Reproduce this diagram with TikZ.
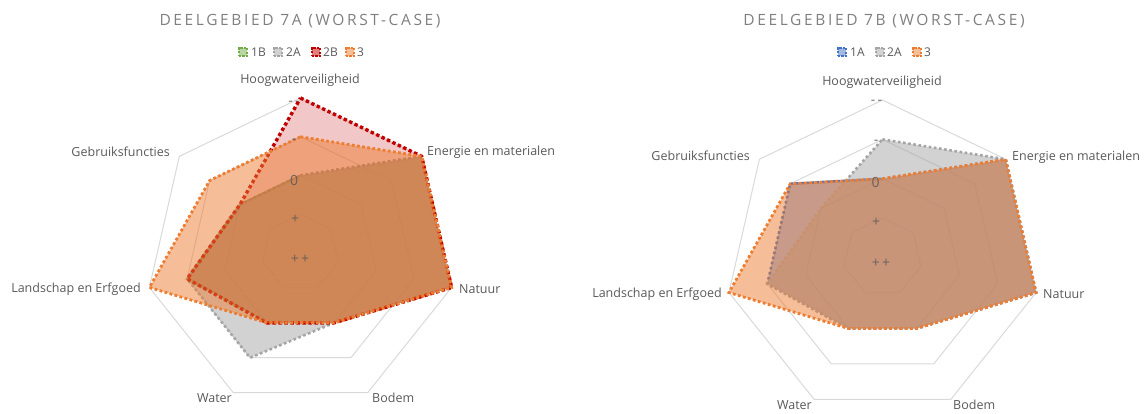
\documentclass[tikz,border=0pt]{standalone}
\usepackage{fontspec}
\setmainfont{Open Sans}
\usetikzlibrary{calc}
\definecolor{txt}{HTML}{595959}
\definecolor{ttl}{HTML}{7F7F7F}
\definecolor{gridc}{HTML}{D9D9D9}
\definecolor{sgreen}{HTML}{70AD47}
\definecolor{sgray}{HTML}{A5A5A5}
\definecolor{sred}{HTML}{C00000}
\definecolor{sorange}{HTML}{ED7D31}
\definecolor{sblue}{HTML}{4472C4}
\newcommand\radarpoly[9]{%
  \draw[#1] ($(#2)+(90:#3*\U)$) -- ($(#2)+(38.5714:#4*\U)$) -- ($(#2)+(-12.8571:#5*\U)$)
   -- ($(#2)+(-64.2857:#6*\U)$) -- ($(#2)+(-115.7143:#7*\U)$) -- ($(#2)+(-167.1429:#8*\U)$)
   -- ($(#2)+(141.4286:#9*\U)$) -- cycle;}
\tikzset{
  ringline/.style={draw=gridc, line width=1pt},
  ser/.style={draw=#1, fill=#1, fill opacity=0.5, line width=2.6pt, dash pattern=on 2.6pt off 2.6pt, line join=miter},
  legmark/.style={draw=#1, fill=#1, fill opacity=0.5, line width=2.2pt, dash pattern=on 2.2pt off 1.4pt, minimum size=8.5pt, inner sep=0pt},
  legtxt/.style={anchor=west, inner sep=0pt, font=\fontsize{12}{14}\selectfont, text=txt},
  ttlstyle/.style={inner sep=0pt, text=ttl, font=\fontsize{15.5}{18}\selectfont\addfontfeature{LetterSpace=17}},
  axlab/.style={inner sep=0pt, text=txt, font=\fontsize{12.5}{15}\selectfont},
  ticklab/.style={inner sep=0pt, text=txt, text opacity=0.85, font=\fontsize{14}{16}\selectfont},
}
\begin{document}
\begin{tikzpicture}[x=1pt,y=-1pt]
\useasboundingbox (0,0) rectangle (1147,414);
% ---------------- Chart 7A ----------------
\coordinate (cA) at (300.5,253);
\def\U{38.75pt}
\node[ttlstyle] (tA) at (300,21) {DEELGEBIED 7A (WORST-CASE)};
\node[legmark=sgreen] (mA1) at (243,52) {};
\node[legtxt] (lA1) at (251,52.5) {1B};
\node[legmark=sgray] (mA2) at (278,52) {};
\node[legtxt] (lA2) at (286,52.5) {2A};
\node[legmark=sred] (mA3) at (316,52) {};
\node[legtxt] (lA3) at (323,52.5) {2B};
\node[legmark=sorange] (mA4) at (350,52) {};
\node[legtxt] (lA4) at (357,52.5) {3};
\foreach \k in {1,2,3,4}{\radarpoly{ringline}{cA}{\k}{\k}{\k}{\k}{\k}{\k}{\k}}
\node[ticklab] (kA0) at (294,103) {-\,-};
\radarpoly{ser=sgreen}{cA}{2}{4}{4}{2}{2}{3}{2}
\radarpoly{ser=sgray}{cA}{2}{4}{4}{2}{3}{3}{2}
\radarpoly{ser=sred, fill opacity=0.22, line width=3.4pt, dash pattern=on 3.4pt off 2.6pt}{cA}{4}{4}{4}{2}{2}{3}{2}
\radarpoly{ser=sorange, line width=2.8pt, dash pattern=on 2.8pt off 2.4pt}{cA}{3}{4}{4}{2}{2}{4}{3}
\node[ticklab] (kA1) at (294,141) {-};
\node[ticklab] (kA2) at (294,180) {0};
\node[ticklab] (kA3) at (295,219) {+};
\node[ticklab] (kA4) at (300,259) {+\,+};
\node[axlab] (aA0) at (300,80) {Hoogwaterveiligheid};
\node[axlab, anchor=west] (aA1) at (427,152) {Energie en materialen};
\node[axlab, anchor=west] (aA2) at (459,289) {Natuur};
\node[axlab, anchor=west] (aA3) at (372,398) {Bodem};
\node[axlab, anchor=east] (aA4) at (232,398) {Water};
\node[axlab, anchor=east] (aA5) at (141,289) {Landschap en Erfgoed};
\node[axlab, anchor=east] (aA6) at (170,152) {Gebruiksfuncties};
% ---------------- Chart 7B ----------------
\coordinate (cB) at (882.5,257.5);
\def\U{39.375pt}
\node[ttlstyle] (tB) at (884,21) {DEELGEBIED 7B (WORST-CASE)};
\node[legmark=sblue] (mB1) at (842,52) {};
\node[legtxt] (lB1) at (850,52.5) {1A};
\node[legmark=sgray] (mB2) at (880,52) {};
\node[legtxt] (lB2) at (887,52.5) {2A};
\node[legmark=sorange] (mB3) at (917,52) {};
\node[legtxt] (lB3) at (924,52.5) {3};
\foreach \k in {1,2,3,4}{\radarpoly{ringline}{cB}{\k}{\k}{\k}{\k}{\k}{\k}{\k}}
\node[ticklab] (kB0) at (876.5,102) {-\,-};
\radarpoly{ser=sblue}{cB}{2}{4}{4}{2}{2}{3}{3}
\radarpoly{ser=sgray}{cB}{3}{4}{4}{2}{2}{3}{2}
\radarpoly{ser=sorange, line width=2.8pt, dash pattern=on 2.8pt off 2.4pt}{cB}{2}{4}{4}{2}{2}{4}{3}
\node[ticklab] (kB1) at (876,142) {-};
\node[ticklab] (kB2) at (875.5,182) {0};
\node[ticklab] (kB3) at (876,222) {+};
\node[ticklab] (kB4) at (881,263) {+\,+};
\node[axlab] (aB0) at (882,82) {Hoogwaterveiligheid};
\node[axlab, anchor=west] (aB1) at (1012,157) {Energie en materialen};
\node[axlab, anchor=west] (aB2) at (1043,294) {Natuur};
\node[axlab, anchor=west] (aB3) at (953,405) {Bodem};
\node[axlab, anchor=east] (aB4) at (812,405) {Water};
\node[axlab, anchor=east] (aB5) at (722,294) {Landschap en Erfgoed};
\node[axlab, anchor=east] (aB6) at (750,156) {Gebruiksfuncties};
\end{tikzpicture}
\end{document}
